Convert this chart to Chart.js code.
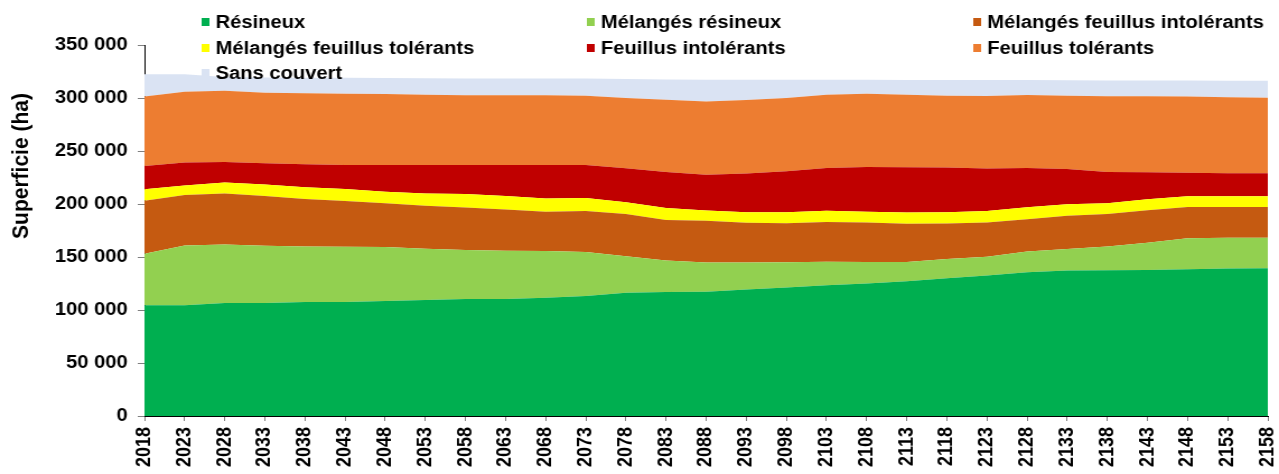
<!DOCTYPE html>
<html lang="fr">
<head>
<meta charset="utf-8">
<title>Superficie par type de couvert</title>
<script src="https://cdn.jsdelivr.net/npm/chart.js@4/dist/chart.umd.min.js"></script>
<style>
  html, body { margin: 0; padding: 0; background: #fff; }
</style>
</head>
<body>
<!-- the original picture is stretched sideways, so the canvas is drawn narrower and widened by CSS (inline so Chart.js keeps it) -->
<canvas id="chart" width="1142" height="474" style="display:block;width:1279px;height:474px"></canvas>
<script>
// Years on the x axis
const years = [2018, 2023, 2028, 2033, 2038, 2043, 2048, 2053, 2058, 2063, 2068, 2073, 2078, 2083,
               2088, 2093, 2098, 2103, 2108, 2113, 2118, 2123, 2128, 2133, 2138, 2143, 2148, 2153, 2158];

// Area per cover type (ha), stacked bottom to top
const resineux = [104400, 104400, 106600, 106600, 107500, 107500, 108400, 109400, 110300, 110300, 111600, 113100, 116300, 116900,
                  117200, 119400, 121300, 123400, 125000, 127200, 130000, 132500, 135600, 137200, 137500, 137800, 138400, 139100, 139400];
const melangesResineux = [48700, 56500, 55300, 54000, 52500, 52200, 51000, 48400, 46300, 45600, 44000, 41600, 34300, 29700,
                          27500, 25300, 23700, 22200, 20300, 18100, 18100, 17800, 19700, 20300, 22500, 25600, 29400, 29000, 28700];
const melangesFeuIntol = [50000, 47500, 48100, 46900, 44700, 43100, 41200, 40600, 40000, 38800, 37200, 38700, 40000, 38400,
                          39400, 37500, 36900, 37500, 37200, 36000, 33500, 32200, 30300, 31500, 30600, 30600, 29400, 29100, 29100];
const melangesFeuTol = [10700, 9100, 10300, 10900, 11200, 11300, 11000, 11600, 12800, 12800, 12500, 12200, 11000, 11300,
                        9700, 10000, 10300, 10600, 10300, 10600, 10600, 10900, 11300, 10700, 10000, 10400, 10000, 10000, 10000];
const feuillusIntol = [22100, 21600, 19400, 20000, 21600, 22800, 25300, 26900, 27500, 29400, 31600, 31300, 32200, 34000,
                       33800, 36500, 38700, 40200, 42200, 42800, 42200, 40000, 37100, 33400, 29700, 25600, 22200, 21800, 21800];
const feuillusTol = [65600, 66800, 67200, 66600, 66900, 67200, 66800, 66200, 65600, 65600, 65600, 65300, 66200, 68100,
                     69100, 69400, 69100, 69100, 69100, 68400, 67800, 68500, 68800, 69100, 71300, 71600, 71900, 71600, 71300];
const sansCouvert = [20900, 16500, 12900, 14400, 14800, 14900, 15100, 15500, 16000, 15900, 15900, 16200, 18000, 19100,
                     20600, 19100, 17200, 14100, 13100, 13900, 14800, 15100, 14200, 14600, 15000, 14900, 15200, 15700, 15900];

const seriesLabels = ['Résineux', 'Mélangés résineux', 'Mélangés feuillus intolérants',
                      'Mélangés feuillus tolérants', 'Feuillus intolérants', 'Feuillus tolérants', 'Sans couvert'];
const seriesData = [resineux, melangesResineux, melangesFeuIntol, melangesFeuTol, feuillusIntol, feuillusTol, sansCouvert];
const seriesColors = ['#00AF50', '#92D050', '#C55A11', '#FFFF00', '#C00000', '#ED7D31', '#DAE3F3'];

const FONT = '"Liberation Sans", Arial, sans-serif';

// Format numbers as "350 000"
function spaced(v) {
    return String(v).replace(/\B(?=(\d{3})+(?!\d))/g, ' ');
}

// Legend in three fixed columns plus the rotated y title
const legendAndTitle = {
    id: 'legendAndTitle',
    afterDraw(chart) {
        const ctx = chart.ctx;
        const colX = [180, 524, 869];
        const rowY = [22, 48, 73];
        ctx.save();
        ctx.font = 'bold 18px ' + FONT;
        ctx.textBaseline = 'middle';
        ctx.textAlign = 'left';
        chart.data.datasets.forEach((ds, i) => {
            const x = colX[i % 3];
            const y = rowY[Math.floor(i / 3)];
            ctx.fillStyle = ds.backgroundColor;
            ctx.fillRect(x, y - 4, 7, 8);
            ctx.fillStyle = '#000';
            ctx.fillText(ds.label, x + 12.5, y + 1);
        });

        // y axis title
        ctx.translate(19.5, 166);
        ctx.rotate(-Math.PI / 2);
        ctx.textAlign = 'center';
        ctx.font = 'bold 21px ' + FONT;
        ctx.fillText('Superficie (ha)', 0, 0);
        ctx.restore();
    }
};

Chart.defaults.color = '#000';
Chart.defaults.font.family = FONT;

new Chart(document.getElementById('chart'), {
    type: 'line',
    data: {
        labels: years,
        datasets: seriesData.map((d, i) => ({
            label: seriesLabels[i],
            data: d,
            backgroundColor: seriesColors[i],
            borderWidth: 0,
            pointRadius: 0,
            tension: 0,
            fill: i === 0 ? 'origin' : '-1'
        }))
    },
    options: {
        responsive: false,
        animation: false,
        layout: { padding: { top: 45, right: 10, left: 0, bottom: 0 } },
        plugins: {
            legend: { display: false },
            tooltip: { enabled: false }
        },
        scales: {
            x: {
                offset: false,
                grid: { drawOnChartArea: false, tickLength: 5, color: '#808080' },
                border: { color: '#000', width: 1 },
                ticks: {
                    autoSkip: false,
                    minRotation: 90,
                    maxRotation: 90,
                    padding: 6,
                    font: { size: 18, weight: 'bold' }
                },
                afterFit(scale) {
                    scale.height = 58;
                    // the end labels fit inside the margins, no extra side padding
                    scale.paddingLeft = 0;
                    scale.paddingRight = 0;
                }
            },
            y: {
                stacked: true,
                min: 0,
                max: 350000,
                grid: { drawOnChartArea: false, tickLength: 6, color: '#808080' },
                border: { color: '#000', width: 1 },
                ticks: {
                    stepSize: 50000,
                    padding: 9,
                    font: { size: 18, weight: 'bold' },
                    callback: v => spaced(v)
                },
                afterFit(scale) { scale.width = 129; }
            }
        }
    },
    plugins: [legendAndTitle]
});
</script>
</body>
</html>
